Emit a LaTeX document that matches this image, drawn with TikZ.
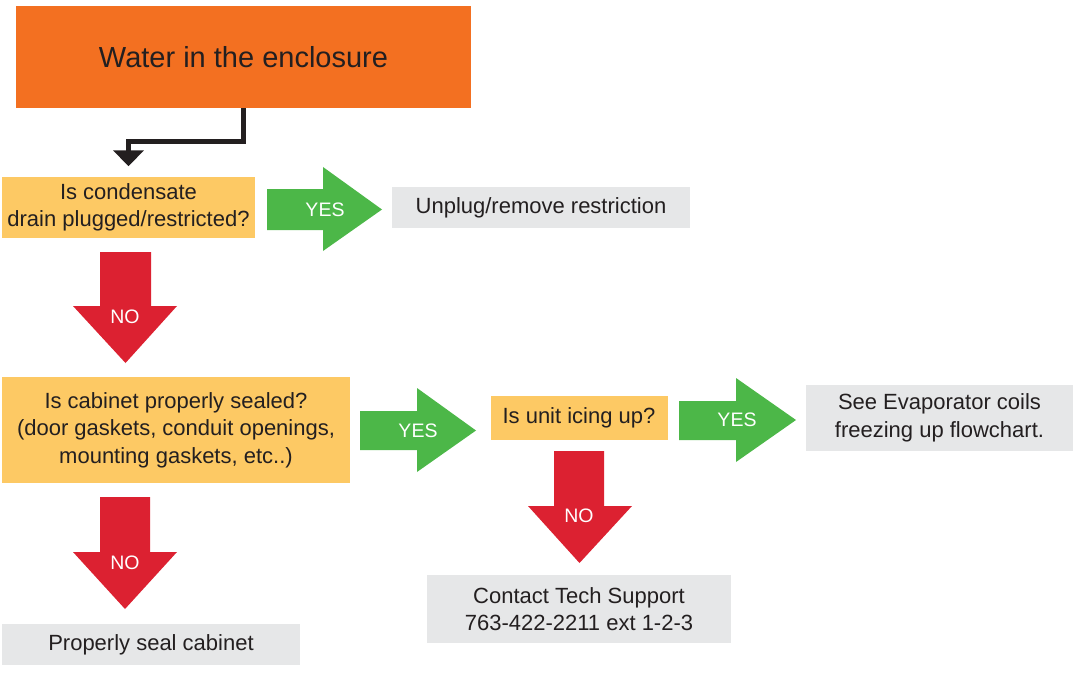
\documentclass[tikz,border=0pt]{standalone}
\usepackage{fontspec}
\setmainfont{Liberation Sans}
\usetikzlibrary{arrows.meta}
\definecolor{cOrange}{HTML}{F37021}
\definecolor{cYellow}{HTML}{FDC964}
\definecolor{cGreen}{HTML}{4CB748}
\definecolor{cRed}{HTML}{DC2131}
\definecolor{cGray}{HTML}{E6E7E8}
\definecolor{cText}{HTML}{231F20}
\tikzset{
  box/.style={rectangle, inner sep=0pt, align=center, text=cText,
    font=\fontsize{22}{27.5}\selectfont},
  qbox/.style={box, fill=cYellow},
  rbox/.style={box, fill=cGray},
  yesarrow/.style={fill=cGreen, draw=none},
  noarrow/.style={fill=cRed, draw=none},
  lbl/.style={text=white, inner sep=0pt, font=\fontsize{19.5}{22}\selectfont},
  conn/.style={draw=cText, line width=5pt, line join=miter,
    -{Triangle[width=30pt,length=16pt]}},
}
\begin{document}
\begin{tikzpicture}[x=1pt,y=-1pt]
\useasboundingbox (0,0) rectangle (1074,674);
% boxes
\node[box, fill=cOrange, minimum width=455pt, minimum height=102pt,
  font=\fontsize{29}{34}\selectfont] (start) at (243.5,57) {Water in the enclosure};
\node[qbox, minimum width=253pt, minimum height=60pt] (q1) at (128.5,207.5)
  {Is condensate\\drain plugged/restricted?};
\node[rbox, minimum width=298pt, minimum height=41pt] (r1) at (541,207.5)
  {Unplug/remove restriction};
\node[qbox, minimum width=348pt, minimum height=106pt] (q2) at (176,430)
  {Is cabinet properly sealed?\\(door gaskets, conduit openings,\\mounting gaskets, etc..)};
\node[qbox, minimum width=177pt, minimum height=44pt] (q3) at (579,418)
  {Is unit icing up?};
\node[rbox, minimum width=267pt, minimum height=66pt] (r3) at (939.5,418)
  {See Evaporator coils\\freezing up flowchart.};
\node[rbox, minimum width=304pt, minimum height=68pt] (r4) at (579,609)
  {Contact Tech Support\\763-422-2211 ext 1-2-3};
\node[rbox, minimum width=298pt, minimum height=41pt] (r2) at (151,644.5)
  {Properly seal cabinet};
% connector
\draw[conn] (start.south) -- ++(0,33) -| ([yshift=11pt]q1.north);
% yes arrows
\fill[yesarrow] (267,189) -- (323,189) -- (323,167) -- (382,209.5) -- (323,251) -- (323,230) -- (267,230) -- cycle;
\node[lbl] (y1) at (325,210) {YES};
\fill[yesarrow] (360,411) -- (417,411) -- (417,388) -- (476,430.5) -- (417,472) -- (417,450) -- (360,450) -- cycle;
\node[lbl] (y2) at (418,431) {YES};
\fill[yesarrow] (679,401) -- (736,401) -- (736,378) -- (796,420) -- (736,462) -- (736,440) -- (679,440) -- cycle;
\node[lbl] (y3) at (737,420) {YES};
% no arrows
\fill[noarrow] (100,252) -- (151,252) -- (151,306) -- (177,306) -- (125.5,363) -- (73,306) -- (100,306) -- cycle;
\node[lbl] (n1) at (125,317) {NO};
\fill[noarrow] (554,451) -- (604,451) -- (604,506) -- (632,506) -- (579.5,563) -- (528,506) -- (554,506) -- cycle;
\node[lbl] (n2) at (579,516) {NO};
\fill[noarrow] (100,497) -- (150,497) -- (150,552) -- (177,552) -- (125,609) -- (73,552) -- (100,552) -- cycle;
\node[lbl] (n3) at (125,563) {NO};
\end{tikzpicture}
\end{document}
